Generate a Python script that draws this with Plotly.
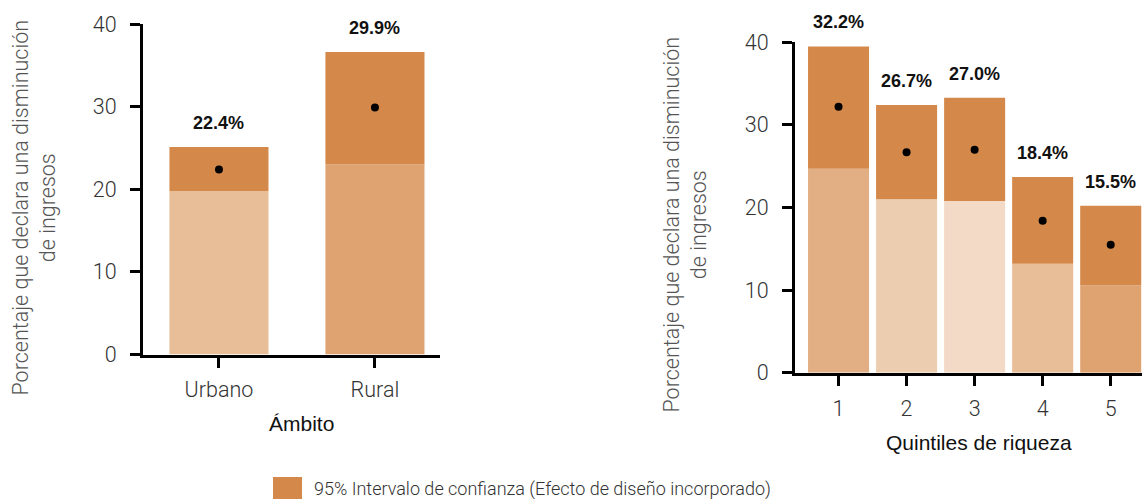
import plotly.graph_objects as go

# ---- data ----
ambito = ["Urbano", "Rural"]
ambito_est = [22.4, 29.9]
ambito_low = [19.8, 23.0]
ambito_high = [25.1, 36.6]

quintiles = ["1", "2", "3", "4", "5"]
quint_est = [32.2, 26.7, 27.0, 18.4, 15.5]
quint_low = [24.7, 21.0, 20.8, 13.2, 10.6]
quint_high = [39.5, 32.4, 33.3, 23.7, 20.2]

yticks = [0, 10, 20, 30, 40]

ci_color = "#D4894A"
ambito_low_colors = ["#E8BE98", "#DFA271"]
quint_low_colors = ["#E2AF84", "#EDCDB0", "#F2DAC7", "#E8BE98", "#DFA271"]

legend_text = "95% Intervalo de confianza (Efecto de diseño incorporado)"
ytitle = "Porcentaje que declara una disminución<br>de ingresos"

W, H = 1142, 499
FONT = "Roboto"


def px(x):
    return x / W


def py(y):
    return 1 - y / H


fig = go.Figure()


def add_panel(cats, est, low, high, low_colors, xa, ya, width):
    fig.add_trace(go.Bar(x=cats, y=low, marker=dict(color=low_colors, line=dict(width=0)),
                         width=width, xaxis=xa, yaxis=ya, showlegend=False))
    fig.add_trace(go.Bar(x=cats, y=[h - l for h, l in zip(high, low)], base=low,
                         marker=dict(color=ci_color, line=dict(width=0)),
                         width=width, xaxis=xa, yaxis=ya, showlegend=False))
    fig.add_trace(go.Scatter(x=cats, y=est, mode="markers",
                             marker=dict(color="black", size=8),
                             xaxis=xa, yaxis=ya, showlegend=False, cliponaxis=False))
    for i, (e, h) in enumerate(zip(est, high)):
        fig.add_annotation(x=i, y=h, xref=xa, yref=ya, text=f"<b>{e:.1f}%</b>",
                           showarrow=False, xanchor="center", yanchor="middle", yshift=24,
                           font=dict(family="Liberation Sans", size=18, color="#111"))


add_panel(ambito, ambito_est, ambito_low, ambito_high, ambito_low_colors, "x", "y", 0.635)
add_panel(quintiles, quint_est, quint_low, quint_high, quint_low_colors, "x2", "y2", 0.897)

axis_common = dict(showline=True, linecolor="black", linewidth=3, ticks="outside",
                   ticklen=10, tickwidth=2.5, tickcolor="black", showgrid=False,
                   zeroline=False, automargin=False,
                   tickfont=dict(family=FONT, size=21.5, color="#333", weight=300))

fig.update_layout(
    width=W, height=H, autosize=False,
    margin=dict(l=0, r=0, t=0, b=0, pad=0),
    plot_bgcolor="white", paper_bgcolor="white",
    barmode="overlay",
    xaxis=dict(domain=[px(143), px(440)], range=[-0.487, 1.417], type="category",
               anchor="y", ticklabelstandoff=4, **axis_common),
    yaxis=dict(domain=[py(354.5), py(24)], range=[0, 40], tickvals=yticks,
               anchor="x", ticklabelstandoff=9, **axis_common),
    xaxis2=dict(domain=[px(795), 1.0], range=[-0.64, 4.46], type="category",
                anchor="y2", ticklabelstandoff=4, **axis_common),
    yaxis2=dict(domain=[py(372.7), py(42.3)], range=[0, 40], tickvals=yticks,
                anchor="x2", ticklabelstandoff=9, **axis_common),
)

title_font = dict(family="Liberation Sans", size=21, color="#111")
ytitle_font = dict(family=FONT, size=21.5, color="#555", weight=300)


def note(x, y, text, font, **kw):
    fig.add_annotation(x=px(x), y=py(y), xref="paper", yref="paper", text=text,
                       showarrow=False, font=font, **kw)


note(301, 423, "Ámbito", title_font, xanchor="center", yanchor="middle")
note(978.5, 442, "Quintiles de riqueza", title_font, xanchor="center", yanchor="middle")
note(33.5, 208, ytitle, ytitle_font, textangle=-90, xanchor="center", yanchor="middle")
note(684.5, 225, ytitle, ytitle_font, textangle=-90, xanchor="center", yanchor="middle")

# legend
fig.add_shape(type="rect", xref="paper", yref="paper", x0=px(273), x1=px(302),
              y0=py(506), y1=py(477), fillcolor=ci_color, line=dict(width=0))
note(312, 489, legend_text, dict(family=FONT, size=18, color="#333", weight=300),
     xanchor="left", yanchor="middle")

fig.write_html("out.html", config={"displayModeBar": False},
               post_script="document.body.style.margin='0';")
